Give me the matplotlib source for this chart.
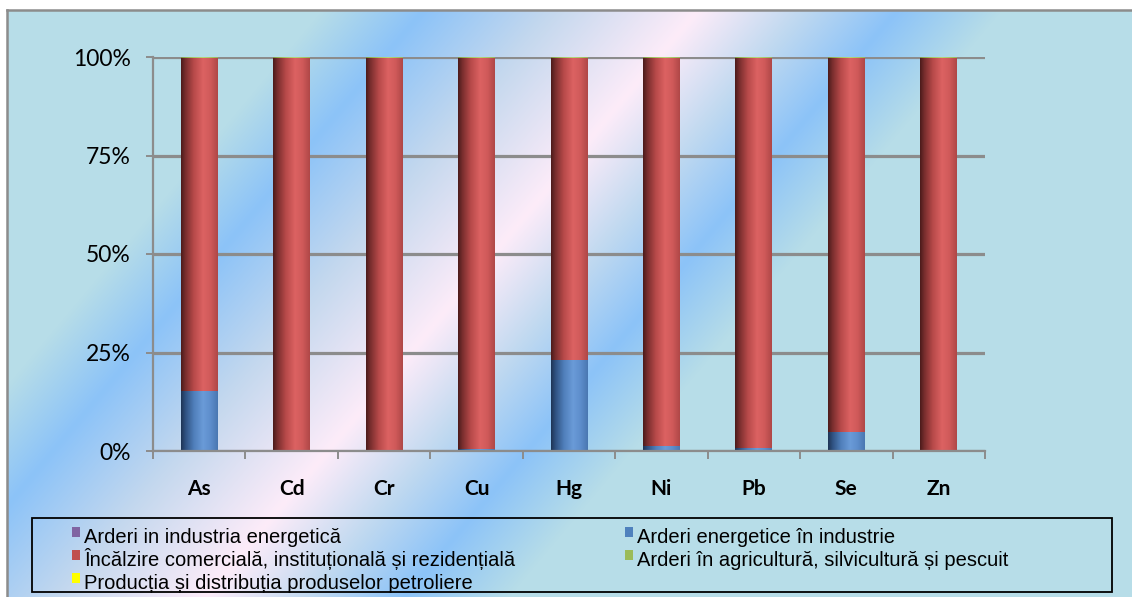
import numpy as np
import matplotlib
matplotlib.use("Agg")
import matplotlib.pyplot as plt
from matplotlib.patches import Rectangle
from matplotlib.colors import to_rgb

# data (share of emissions, %)
categories = ["As", "Cd", "Cr", "Cu", "Hg", "Ni", "Pb", "Se", "Zn"]
energetica = [0, 0, 0, 0, 0, 0, 0, 0, 0]
industrie = [15.3, 0, 0, 0.4, 23.1, 1.3, 0.8, 4.7, 0]
rezidential = [84.4, 99.7, 99.7, 99.3, 76.6, 98.4, 98.9, 95.0, 99.7]
agricultura = [0.3, 0.3, 0.3, 0.3, 0.3, 0.3, 0.3, 0.3, 0.3]
petroliere = [0, 0, 0, 0, 0, 0, 0, 0, 0]

series_names = [
    "Arderi in industria energetică",
    "Arderi energetice în industrie",
    "Încălzire comercială, instituțională și rezidențială",
    "Arderi în agricultură, silvicultură și pescuit",
    "Producția și distribuția produselor petroliere",
]
series_vals = [energetica, industrie, rezidential, agricultura, petroliere]
series_cols = ["#8064a2", "#4f81bd", "#c0504d", "#9bbb59", "#ffff00"]

W, H = 1132, 597
fig = plt.figure(figsize=(W / 100, H / 100), dpi=100)

# background: diagonal gradient bands like the office preset
bg = fig.add_axes([0, 0, 1, 1])
bg.set_xlim(0, W)
bg.set_ylim(H, 0)
bg.axis("off")
yy, xx = np.mgrid[0:H, 0:W]
u = xx + 0.84 * yy
stop_u = [0, 330, 431, 560, 706, 810, 905, 1010, 3000]
stop_c = np.array([to_rgb(c) for c in ["#b7dde8", "#b7dde8", "#8cc3f8", "#c4d8ee",
                                        "#fdecf9", "#c0d9f0", "#8cc3f8", "#b7dde8", "#b7dde8"]])
img = np.dstack([np.interp(u, stop_u, stop_c[:, i]) for i in range(3)])
img[(xx < 7) | (yy < 10)] = 1.0
bg.imshow(img, extent=[0, W, H, 0], aspect="auto", interpolation="bilinear")
bg.plot([7, W], [10, 10], color="#8c8c8c", lw=1.8)
bg.plot([7, 7], [10, H], color="#8c8c8c", lw=1.8)
bg.set_xlim(0, W)
bg.set_ylim(H, 0)

# main plot
ax = fig.add_axes([153 / W, 1 - 451 / H, (985 - 153) / W, (451 - 57) / H])
ax.patch.set_alpha(0)
x = np.arange(len(categories))

shade = {
    "#c0504d": ["#4d1c1c", "#7a2e2e", "#b84a4a", "#dc6262", "#d05a5a", "#b04848"],
    "#4f81bd": ["#1f3556", "#2f5282", "#507fbb", "#6a9bd8", "#5e8ecc", "#4a78b2"],
    "#9bbb59": ["#7e9a48", "#8fae52", "#a8c868", "#b6d478", "#a8c868", "#98b85c"],
}
shade_pos = [0, 0.12, 0.35, 0.6, 0.8, 1.0]

bottom = np.zeros(len(categories))
for name, vals, col in zip(series_names, series_vals, series_cols):
    vals = np.array(vals, dtype=float)
    bars = ax.bar(x, vals, 0.4, bottom=bottom, color=col, zorder=2, linewidth=0)
    if col in shade:
        cs = np.array([to_rgb(c) for c in shade[col]])
        t = np.linspace(0, 1, 60)
        grad = np.dstack([np.interp(t, shade_pos, cs[:, i]) for i in range(3)])
        for p, v in zip(bars.patches, vals):
            if v <= 0:
                continue
            im = ax.imshow(grad, extent=(p.get_x(), p.get_x() + p.get_width(),
                                         p.get_y(), p.get_y() + p.get_height()),
                           aspect="auto", interpolation="bilinear", zorder=2.1)
            im.set_clip_path(p)
    bottom += vals

ax.set_xlim(-0.5, len(categories) - 0.5)
ax.set_ylim(0, 100)

ax.set_yticks([0, 25, 50, 75, 100])
ax.set_yticklabels(["0%", "25%", "50%", "75%", "100%"], fontfamily="Lato", fontsize=16.5)
ax.yaxis.grid(True, color="#8c8c8c", lw=2.3)
ax.set_axisbelow(True)

ax.set_xticks(np.arange(-0.5, len(categories), 1))
ax.set_xticklabels([])
ax.set_xticks(x, minor=True)
ax.set_xticklabels(categories, minor=True, fontfamily="Lato", fontweight="bold", fontsize=15)
ax.tick_params(axis="x", which="major", length=6, width=1.4, color="#8c8c8c")
ax.tick_params(axis="x", which="minor", length=0, pad=20)
ax.tick_params(axis="y", length=5, width=1.4, color="#8c8c8c", pad=11)

for s in ["top", "right"]:
    ax.spines[s].set_visible(False)
for s in ["left", "bottom"]:
    ax.spines[s].set_color("#8c8c8c")
    ax.spines[s].set_linewidth(1.6)

# legend drawn by hand (box is too small for the last row, like the original)
bg.add_patch(Rectangle((32, 518), 1080, 74, fill=False, edgecolor="black", lw=1.3, zorder=5))
legend_order = [(0, 0, 0), (1, 1, 0), (2, 0, 1), (3, 1, 1), (4, 0, 2)]
col_x = [72, 625]
for idx, c, r in legend_order:
    base = 543 + 23 * r
    bg.add_patch(Rectangle((col_x[c], base - 16), 8, 10, color=series_cols[idx], lw=0, zorder=5))
    bg.text(col_x[c] + 12, base, series_names[idx], va="baseline", ha="left",
            fontsize=14.5, family="Liberation Sans", zorder=6)

fig.savefig("out.png", dpi=100)
